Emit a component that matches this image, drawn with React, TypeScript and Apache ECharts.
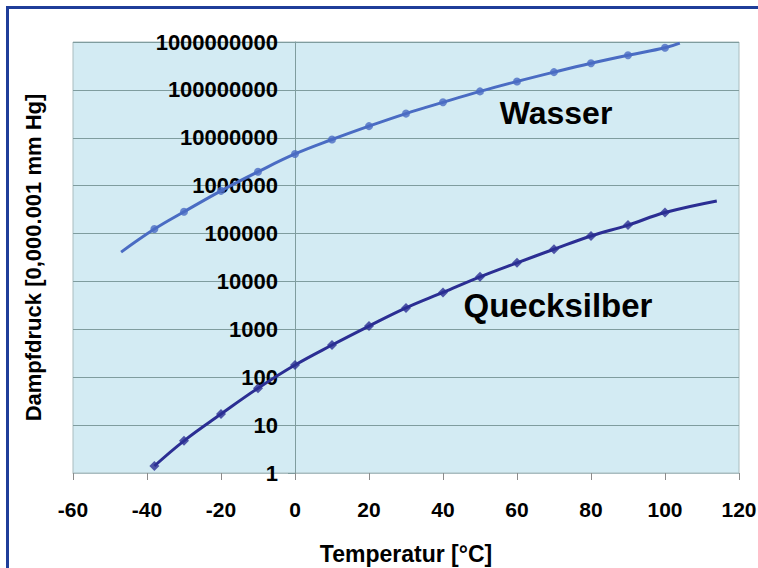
import React, { useEffect, useRef } from "react";
import * as echarts from "echarts";

const xTicks = [-60, -40, -20, 0, 20, 40, 60, 80, 100, 120];
const yTicks = [1, 10, 100, 1000, 10000, 100000, 1000000, 10000000, 100000000, 1000000000];

const waterTemps = [-38, -30, -20, -10, 0, 10, 20, 30, 40, 50, 60, 70, 80, 90, 100];
const waterValues = [124000, 285000, 780000, 1950000, 4600000, 9200000, 17500000, 32000000, 55000000, 93000000, 150000000, 235000000, 360000000, 530000000, 760000000];
const waterLineStart = [-47, 41000];
const waterLineEnd = [104, 950000000];

const mercuryTemps = [-38, -30, -20, -10, 0, 10, 20, 30, 40, 50, 60, 70, 80, 90, 100];
const mercuryValues = [1.4, 4.7, 17, 59, 180, 470, 1170, 2800, 5900, 12500, 24500, 47000, 89000, 150000, 275000];
const mercuryLineEnd = [114, 480000];

const FONT = "'Liberation Sans', Arial, sans-serif";

export default function App() {
  const ref = useRef<HTMLDivElement>(null);

  useEffect(() => {
    if (!ref.current) return;
    const chart = echarts.init(ref.current, undefined, { renderer: "svg" });

    const waterPts = waterTemps.map((t, i) => [t, waterValues[i]]);
    const mercuryPts = mercuryTemps.map((t, i) => [t, mercuryValues[i]]);
    const waterLine = [waterLineStart, ...waterPts, waterLineEnd];
    const mercuryLine = [...mercuryPts, mercuryLineEnd];

    chart.setOption({
      animation: false,
      backgroundColor: "#ffffff",
      textStyle: { fontFamily: FONT },
      grid: {
        left: 73,
        top: 42,
        right: 19,
        bottom: 95,
        show: true,
        backgroundColor: "#d3ebf3",
        borderColor: "#a9bcbf",
        borderWidth: 1,
        containLabel: false,
        outerBoundsMode: "none",
      },
      xAxis: {
        type: "value",
        min: -60,
        max: 120,
        interval: 20,
        name: "Temperatur [°C]",
        nameLocation: "middle",
        nameGap: 69,
        nameTextStyle: { fontSize: 23, fontWeight: "bold", color: "#000", fontFamily: FONT },
        axisLine: { show: true, onZero: false, lineStyle: { color: "#a9bcbf", width: 1 } },
        axisTick: { show: true, length: 7, lineStyle: { color: "#8c8c8c" } },
        axisLabel: {
          fontSize: 21,
          fontWeight: "bold",
          color: "#000",
          fontFamily: FONT,
          margin: 26,
          customValues: xTicks,
        },
        splitLine: { show: false },
      },
      yAxis: {
        type: "log",
        logBase: 10,
        min: 1,
        max: 1000000000,
        offset: -222,
        name: "Dampfdruck [0,000.001 mm Hg]",
        nameLocation: "middle",
        nameGap: 251,
        nameRotate: 90,
        nameTextStyle: { fontSize: 22, fontWeight: "bold", color: "#000", fontFamily: FONT },
        axisLine: { show: true, onZero: false, lineStyle: { color: "#7f9c9e", width: 1 } },
        axisTick: { show: true, length: 7, lineStyle: { color: "#7f9c9e" } },
        axisLabel: {
          fontSize: 22,
          fontWeight: "bold",
          color: "#000",
          fontFamily: FONT,
          margin: 17,
          formatter: (v: number) => {
            const found = yTicks.find((t) => Math.abs(t - v) / t < 1e-6);
            return found !== undefined ? String(found) : "";
          },
        },
        splitLine: { show: true, lineStyle: { color: "#7f9c9e", width: 1 } },
      },
      series: [
        {
          name: "Wasser Linie",
          type: "line",
          data: waterLine,
          smooth: 0.4,
          showSymbol: false,
          symbol: "none",
          lineStyle: { color: "#4a6cc3", width: 3 },
          z: 3,
        },
        {
          name: "Wasser",
          type: "scatter",
          data: waterPts,
          symbol: "circle",
          symbolSize: 8,
          itemStyle: { color: "#4a6cc3" },
          z: 4,
        },
        {
          name: "Quecksilber Linie",
          type: "line",
          data: mercuryLine,
          smooth: 0.4,
          showSymbol: false,
          symbol: "none",
          lineStyle: { color: "#2b2e93", width: 3 },
          z: 3,
        },
        {
          name: "Quecksilber",
          type: "scatter",
          data: mercuryPts,
          symbol: "diamond",
          symbolSize: 10,
          itemStyle: { color: "#2b2e93" },
          z: 4,
        },
      ],
      graphic: [
        {
          type: "rect",
          shape: { x: 7.5, y: 7.5, width: 800, height: 600 },
          style: { fill: "none", stroke: "#1f3d99", lineWidth: 3 },
          silent: true,
          z: 10,
        },
        {
          type: "text",
          x: 556,
          y: 113,
          style: {
            text: "Wasser",
            fontSize: 32,
            fontWeight: "bold",
            fontFamily: FONT,
            fill: "#000",
            align: "center",
            verticalAlign: "middle",
          },
          z: 10,
        },
        {
          type: "text",
          x: 558,
          y: 305,
          style: {
            text: "Quecksilber",
            fontSize: 33,
            fontWeight: "bold",
            fontFamily: FONT,
            fill: "#000",
            align: "center",
            verticalAlign: "middle",
          },
          z: 10,
        },
      ],
    });

    return () => {
      chart.dispose();
    };
  }, []);

  return (
    <div
      ref={ref}
      style={{ position: "fixed", left: 0, top: 0, width: 758, height: 568 }}
    />
  );
}
